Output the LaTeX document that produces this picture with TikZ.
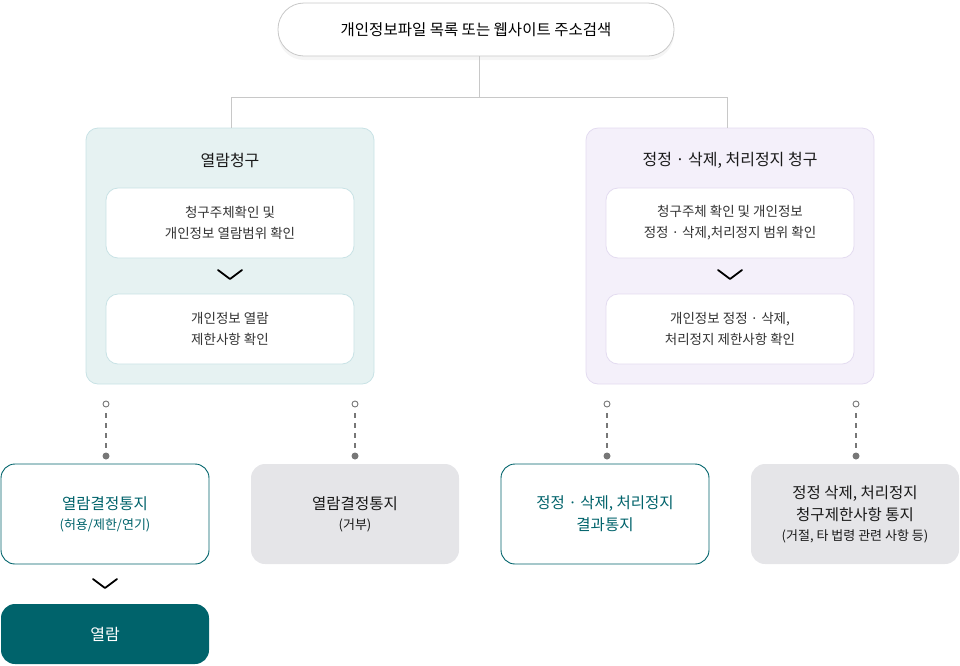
\documentclass[tikz,border=0pt]{standalone}
\usepackage{fontspec}
\setmainfont{Noto Sans CJK KR}
\usetikzlibrary{shadows}
\definecolor{teal1}{HTML}{00636B}
\definecolor{lbg}{HTML}{E6F2F2}
\definecolor{lbd}{HTML}{C8E2E5}
\definecolor{rbg}{HTML}{F4F0FA}
\definecolor{rbd}{HTML}{E3DBF0}
\definecolor{gbg}{HTML}{E5E5E8}
\definecolor{dotc}{HTML}{777777}
\definecolor{linec}{HTML}{C8C8C8}
\newcommand\mysubf{\fontsize{13}{18}\selectfont}
\tikzset{
 bigbox/.style={rounded corners=12pt,minimum width=288pt,minimum height=256pt,line width=0.8pt},
 inbox/.style={rounded corners=12pt,minimum width=248pt,minimum height=70pt,fill=white,line width=0.8pt,align=center,font=\fontsize{13.5}{21}\selectfont,text=black!80},
 res/.style={rounded corners=14pt,minimum width=208pt,minimum height=100pt,align=center,font=\fontsize{15.5}{22}\selectfont},
 ttl/.style={font=\fontsize{16}{20}\selectfont,text=black!90},
 chev/.style={line width=1.8pt,line cap=round,line join=round},
 conn/.style={draw=linec,line width=0.8pt},
 dsh/.style={draw=dotc,line width=1.6pt,dash pattern=on 5pt off 5pt}
}
\begin{document}
\begin{tikzpicture}[x=1pt,y=-1pt]
\useasboundingbox (0,0) rectangle (960,665);
\node[rounded corners=26pt,minimum width=396pt,minimum height=53pt,draw=linec,fill=white,line width=0.8pt,drop shadow={opacity=0.08,shadow xshift=0pt,shadow yshift=-4pt},font=\fontsize{15.5}{20}\selectfont] (top) at (476,29.5) {개인정보파일 목록 또는 웹사이트 주소검색};
\coordinate (j) at (479,97);
\coordinate (jl) at (231,97);
\coordinate (jr) at (727,97);
\node[bigbox,draw=lbd,fill=lbg] (L) at (230,256) {};
\node[bigbox,draw=rbd,fill=rbg] (R) at (730,256) {};
\draw[conn] (top.south -| j) -- (j) (jl) -- (jr) (jl) -- (jl |- L.north) (jr) -- (jr |- R.north);
\node[ttl] (Lt) at (230,160) {열람청구};
\node[ttl] (Rt) at (730,160) {정정 · 삭제, 처리정지 청구};
\node[inbox,draw=lbd] (L1) at (230,223) {청구주체확인 및\\개인정보 열람범위 확인};
\node[inbox,draw=lbd] (L2) at (230,329) {개인정보 열람\\제한사항 확인};
\node[inbox,draw=rbd] (R1) at (730,223) {청구주체 확인 및 개인정보\\정정 · 삭제,처리정지 범위 확인};
\node[inbox,draw=rbd] (R2) at (730,329) {개인정보 정정 · 삭제,\\처리정지 제한사항 확인};
\draw[chev] (218,270) -- (230,279) -- (242,270);
\draw[chev] (718,270) -- (730,279) -- (742,270);
\node[res,draw=teal1,fill=white,text=teal1,line width=0.9pt] (B1) at (105,514) {열람결정통지\\[-2pt]{\mysubf (허용/제한/연기)}};
\node[res,fill=gbg,text=black!90] (B2) at (355,514) {열람결정통지\\[-2pt]{\mysubf (거부)}};
\node[res,draw=teal1,fill=white,text=teal1,line width=0.9pt] (B3) at (605,514) {정정 · 삭제, 처리정지\\결과통지};
\node[res,fill=gbg,text=black!90] (B4) at (855,514) {정정 삭제, 처리정지\\청구제한사항 통지\\[-2pt]{\mysubf (거절, 타 법령 관련 사항 등)}};
\node[rounded corners=14pt,minimum width=208pt,minimum height=60pt,fill=teal1,text=white,font=\fontsize{16}{20}\selectfont] (F) at (105,634) {열람};
\draw[chev] (93,579) -- (105,588) -- (117,579);
\foreach \x/\n in {106/a,355/b,607/c,856/d}{
 \node[circle,draw=dotc,fill=white,line width=0.9pt,inner sep=0pt,minimum size=6pt] (o\n) at (\x,404) {};
 \node[circle,fill=dotc,inner sep=0pt,minimum size=7pt] (f\n) at (\x,456) {};
 \draw[dsh] ([yshift=-6pt]o\n.south) -- (f\n.north);
}
\end{tikzpicture}
\end{document}
